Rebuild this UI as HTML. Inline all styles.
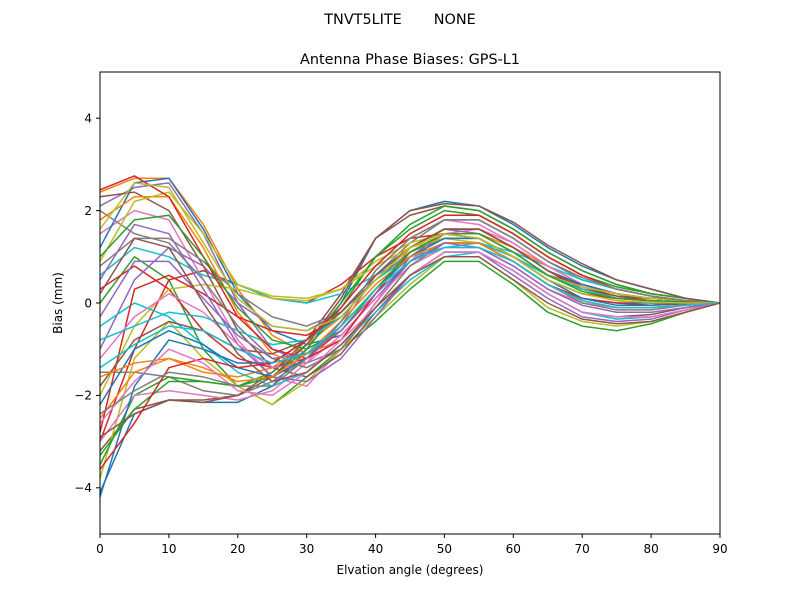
<!DOCTYPE html>
<html><head><meta charset="utf-8"><style>
html,body{margin:0;padding:0;background:#fff;}
svg{display:block;font-family:"DejaVu Sans","Liberation Sans",sans-serif;}
</style></head><body>
<svg width="800" height="600" viewBox="0 0 800 600" xmlns="http://www.w3.org/2000/svg">
<rect width="800" height="600" fill="#fff"/>
<text x="400" y="24" font-size="14.4" text-anchor="middle" xml:space="preserve" style="white-space:pre">TNVT5LITE       NONE</text>
<text x="410" y="64" font-size="14.4" text-anchor="middle">Antenna Phase Biases: GPS-L1</text>
<defs><clipPath id="c"><rect x="100" y="72" width="620" height="462"/></clipPath></defs>
<g clip-path="url(#c)">
<g transform="translate(100,303) scale(6.8889,-46.2)" fill="none" stroke-width="1.5" stroke-linejoin="round">
<polyline vector-effect="non-scaling-stroke" stroke="#1f77b4" points="0,-4.1 5,-2.4 10,-2.1 15,-2.15 20,-2.15 25,-1.8 30,-1.0 35,0 40,1.4 45,2.0 50,2.2 55,2.1 60,1.7 65,1.2 70,0.8 75,0.5 80,0.3 85,0.1 90,0"/>
<polyline vector-effect="non-scaling-stroke" stroke="#ff7f0e" points="0,2.4 5,2.7 10,2.7 15,1.7 20,0.3 25,-0.7 30,-1.1 35,-0.8 40,0.2 45,1.2 50,1.6 55,1.5 60,1.1 65,0.6 70,0.3 75,0.15 80,0.1 85,0.05 90,0"/>
<polyline vector-effect="non-scaling-stroke" stroke="#2ca02c" points="0,0 5,1.0 10,0.5 15,-1 20,-1.8 25,-2.2 30,-1.6 35,-1 40,-0.4 45,0.3 50,0.9 55,0.9 60,0.4 65,-0.2 70,-0.5 75,-0.6 80,-0.45 85,-0.2 90,0"/>
<polyline vector-effect="non-scaling-stroke" stroke="#d62728" points="0,-3 5,-1 10,0.5 15,0.7 20,0.4 25,0.1 30,0 35,0.4 40,1.0 45,1.4 50,1.5 55,1.4 60,1.0 65,0.6 70,0.4 75,0.2 80,0.1 85,0.05 90,0"/>
<polyline vector-effect="non-scaling-stroke" stroke="#9467bd" points="0,2.1 5,2.5 10,2.6 15,1.5 20,0 25,-1.0 30,-1.3 35,-1.0 40,0 45,1.0 50,1.5 55,1.4 60,1.0 65,0.5 70,0.2 75,0.1 80,0.05 85,0.02 90,0"/>
<polyline vector-effect="non-scaling-stroke" stroke="#8c564b" points="0,-3.2 5,-2.3 10,-2.1 15,-2.1 20,-2.0 25,-1.5 30,-0.8 35,0.2 40,1.4 45,1.9 50,2.1 55,2.0 60,1.6 65,1.1 70,0.7 75,0.4 80,0.2 85,0.1 90,0"/>
<polyline vector-effect="non-scaling-stroke" stroke="#e377c2" points="0,1.5 5,2.0 10,1.8 15,0.5 20,-0.8 25,-1.6 30,-1.8 35,-1.0 40,0 45,0.9 50,1.5 55,1.6 60,1.3 65,0.8 70,0.4 75,0.2 80,0.1 85,0.05 90,0"/>
<polyline vector-effect="non-scaling-stroke" stroke="#7f7f7f" points="0,-1.5 5,-1.5 10,-1.6 15,-1.9 20,-2.0 25,-1.7 30,-1.2 35,-0.5 40,0.6 45,1.3 50,1.8 55,1.8 60,1.4 65,0.9 70,0.5 75,0.3 80,0.15 85,0.05 90,0"/>
<polyline vector-effect="non-scaling-stroke" stroke="#bcbd22" points="0,-3.8 5,-1.2 10,-0.4 15,-1.2 20,-1.8 25,-2.2 30,-1.7 35,-1.0 40,-0.3 45,0.4 50,1.0 55,1.0 60,0.5 65,-0.1 70,-0.4 75,-0.5 80,-0.4 85,-0.2 90,0"/>
<polyline vector-effect="non-scaling-stroke" stroke="#17becf" points="0,0.6 5,1.2 10,1.0 15,0.6 20,0.4 25,0.1 30,0.0 35,0.2 40,0.6 45,1.0 50,1.2 55,1.3 60,1.1 65,0.8 70,0.5 75,0.3 80,0.15 85,0.05 90,0"/>
<polyline vector-effect="non-scaling-stroke" stroke="#1f77b4" points="0,1.2 5,2.6 10,2.7 15,1.6 20,0.2 25,-0.6 30,-0.9 35,-0.7 40,0.1 45,0.9 50,1.3 55,1.3 60,0.9 65,0.4 70,0.1 75,0 80,0 85,0 90,0"/>
<polyline vector-effect="non-scaling-stroke" stroke="#ff7f0e" points="0,-2.5 5,-1.5 10,-1.2 15,-1.5 20,-1.6 25,-1.4 30,-0.9 35,-0.3 40,0.5 45,1.1 50,1.5 55,1.5 60,1.2 65,0.8 70,0.4 75,0.2 80,0.1 85,0.05 90,0"/>
<polyline vector-effect="non-scaling-stroke" stroke="#2ca02c" points="0,-3.5 5,-2.0 10,-1.6 15,-1.7 20,-1.8 25,-1.5 30,-0.9 35,0 40,1.0 45,1.7 50,2.1 55,2.0 60,1.6 65,1.1 70,0.7 75,0.4 80,0.2 85,0.1 90,0"/>
<polyline vector-effect="non-scaling-stroke" stroke="#d62728" points="0,0.3 5,0.8 10,0.3 15,-0.6 20,-1.2 25,-1.4 30,-1.2 35,-0.6 40,0.2 45,0.9 50,1.3 55,1.3 60,0.9 65,0.4 70,0.1 75,0 80,-0.05 85,-0.02 90,0"/>
<polyline vector-effect="non-scaling-stroke" stroke="#9467bd" points="0,-1.0 5,0.5 10,1.2 15,0.8 20,0 25,-0.5 30,-0.6 35,-0.2 40,0.6 45,1.2 50,1.6 55,1.5 60,1.1 65,0.6 70,0.3 75,0.1 80,0.05 85,0.02 90,0"/>
<polyline vector-effect="non-scaling-stroke" stroke="#8c564b" points="0,2.3 5,2.4 10,2.0 15,0.8 20,-0.6 25,-1.4 30,-1.6 35,-1.1 40,-0.2 45,0.6 50,1.1 55,1.1 60,0.7 65,0.2 70,-0.2 75,-0.3 80,-0.25 85,-0.1 90,0"/>
<polyline vector-effect="non-scaling-stroke" stroke="#e377c2" points="0,-3.0 5,-2.0 10,-1.9 15,-2.0 20,-2.1 25,-1.9 30,-1.3 35,-0.4 40,0.7 45,1.4 50,1.8 55,1.7 60,1.3 65,0.8 70,0.4 75,0.2 80,0.1 85,0.05 90,0"/>
<polyline vector-effect="non-scaling-stroke" stroke="#7f7f7f" points="0,0.8 5,1.4 10,1.4 15,0.9 20,0.2 25,-0.3 30,-0.5 35,-0.2 40,0.5 45,1.1 50,1.4 55,1.4 60,1.0 65,0.5 70,0.2 75,0.05 80,0 85,0 90,0"/>
<polyline vector-effect="non-scaling-stroke" stroke="#bcbd22" points="0,-2.0 5,-0.5 10,0.3 15,0.4 20,0.3 25,0.1 30,0.05 35,0.3 40,0.9 45,1.3 50,1.5 55,1.4 60,1.0 65,0.6 70,0.3 75,0.15 80,0.1 85,0.05 90,0"/>
<polyline vector-effect="non-scaling-stroke" stroke="#17becf" points="0,-0.5 5,0 10,-0.3 15,-0.9 20,-1.5 25,-1.8 30,-1.5 35,-0.9 40,-0.2 45,0.5 50,1.0 55,1.1 60,0.7 65,0.2 70,-0.2 75,-0.35 80,-0.3 85,-0.15 90,0"/>
<polyline vector-effect="non-scaling-stroke" stroke="#1f77b4" points="0,-4.2 5,-1.8 10,-0.8 15,-1.0 20,-1.3 25,-1.3 30,-0.8 35,-0.2 40,0.6 45,1.2 50,1.6 55,1.6 60,1.2 65,0.7 70,0.4 75,0.2 80,0.1 85,0.05 90,0"/>
<polyline vector-effect="non-scaling-stroke" stroke="#ff7f0e" points="0,1.8 5,2.3 10,2.3 15,1.2 20,-0.2 25,-1.1 30,-1.4 35,-1.0 40,-0.1 45,0.8 50,1.3 55,1.3 60,0.9 65,0.4 70,0.05 75,-0.1 80,-0.1 85,-0.05 90,0"/>
<polyline vector-effect="non-scaling-stroke" stroke="#2ca02c" points="0,-3.3 5,-2.3 10,-1.7 15,-1.7 20,-1.8 25,-1.6 30,-1.0 35,-0.1 40,1.0 45,1.6 50,2.0 55,1.9 60,1.5 65,1.0 70,0.6 75,0.35 80,0.2 85,0.1 90,0"/>
<polyline vector-effect="non-scaling-stroke" stroke="#d62728" points="0,-2.8 5,0.3 10,0.6 15,0.2 20,-0.3 25,-0.6 30,-0.7 35,-0.3 40,0.5 45,1.2 50,1.6 55,1.6 60,1.2 65,0.7 70,0.3 75,0.15 80,0.05 85,0.02 90,0"/>
<polyline vector-effect="non-scaling-stroke" stroke="#9467bd" points="0,0.5 5,1.7 10,1.5 15,0.3 20,-0.9 25,-1.6 30,-1.7 35,-1.2 40,-0.3 45,0.6 50,1.1 55,1.1 60,0.6 65,0.1 70,-0.3 75,-0.4 80,-0.35 85,-0.15 90,0"/>
<polyline vector-effect="non-scaling-stroke" stroke="#8c564b" points="0,-1.8 5,-0.8 10,-0.4 15,-0.6 20,-1.0 25,-1.1 30,-0.8 35,-0.2 40,0.6 45,1.2 50,1.6 55,1.6 60,1.2 65,0.7 70,0.35 75,0.15 80,0.1 85,0.05 90,0"/>
<polyline vector-effect="non-scaling-stroke" stroke="#e377c2" points="0,-1.2 5,-0.3 10,0.2 15,-0.2 20,-0.9 25,-1.4 30,-1.3 35,-0.7 40,0.1 45,0.8 50,1.2 55,1.2 60,0.8 65,0.3 70,0 75,-0.1 80,-0.1 85,-0.05 90,0"/>
<polyline vector-effect="non-scaling-stroke" stroke="#7f7f7f" points="0,2.0 5,1.5 10,1.3 15,0.5 20,-0.5 25,-1.2 30,-1.4 35,-1.0 40,-0.1 45,0.8 50,1.3 55,1.3 60,0.9 65,0.4 70,0 75,-0.15 80,-0.15 85,-0.05 90,0"/>
<polyline vector-effect="non-scaling-stroke" stroke="#bcbd22" points="0,0.9 5,2.2 10,2.4 15,1.5 20,0.4 25,0.15 30,0.1 35,0.3 40,0.8 45,1.2 50,1.4 55,1.3 60,1.0 65,0.6 70,0.35 75,0.2 80,0.1 85,0.05 90,0"/>
<polyline vector-effect="non-scaling-stroke" stroke="#17becf" points="0,-0.8 5,-0.5 10,-0.2 15,-0.3 20,-0.6 25,-0.9 30,-0.8 35,-0.3 40,0.5 45,1.0 50,1.3 55,1.3 60,1.0 65,0.6 70,0.3 75,0.1 80,0.05 85,0.02 90,0"/>
<polyline vector-effect="non-scaling-stroke" stroke="#d62728" points="0,2.45 5,2.75 10,2.3 15,1.0 20,-0.3 25,-1.0 30,-1.2 35,-0.8 40,0.2 45,1.1 50,1.5 55,1.4 60,1.0 65,0.5 70,0.2 75,0.1 80,0.05 85,0.02 90,0"/>
<polyline vector-effect="non-scaling-stroke" stroke="#8c564b" points="0,-2.9 5,-2.4 10,-2.1 15,-2.15 20,-2.0 25,-1.6 30,-0.9 35,0.1 40,1.4 45,2.0 50,2.15 55,2.1 60,1.75 65,1.25 70,0.85 75,0.5 80,0.3 85,0.1 90,0"/>
<polyline vector-effect="non-scaling-stroke" stroke="#1f77b4" points="0,-2.2 5,-1.0 10,-0.6 15,-0.9 20,-1.4 25,-1.6 30,-1.2 35,-0.5 40,0.3 45,1.0 50,1.4 55,1.4 60,1.0 65,0.5 70,0.1 75,-0.05 80,-0.05 85,0 90,0"/>
<polyline vector-effect="non-scaling-stroke" stroke="#ff7f0e" points="0,-1.6 5,-1.3 10,-1.2 15,-1.4 20,-1.7 25,-1.6 30,-1.1 35,-0.4 40,0.4 45,1.0 50,1.3 55,1.3 60,0.9 65,0.4 70,0.05 75,-0.1 80,-0.1 85,-0.05 90,0"/>
<polyline vector-effect="non-scaling-stroke" stroke="#2ca02c" points="0,1.0 5,1.8 10,1.9 15,1.0 20,-0.1 25,-0.8 30,-1.0 35,-0.6 40,0.3 45,1.1 50,1.5 55,1.5 60,1.1 65,0.6 70,0.25 75,0.1 80,0.05 85,0.02 90,0"/>
<polyline vector-effect="non-scaling-stroke" stroke="#d62728" points="0,-3.6 5,-2.6 10,-1.4 15,-1.2 20,-1.4 25,-1.3 30,-0.8 35,-0.1 40,0.8 45,1.5 50,1.9 55,1.9 60,1.5 65,1.0 70,0.6 75,0.3 80,0.15 85,0.05 90,0"/>
<polyline vector-effect="non-scaling-stroke" stroke="#9467bd" points="0,-0.3 5,0.9 10,0.9 15,0.1 20,-0.7 25,-1.2 30,-1.1 35,-0.6 40,0.2 45,0.9 50,1.3 55,1.2 60,0.8 65,0.3 70,-0.05 75,-0.2 80,-0.2 85,-0.1 90,0"/>
<polyline vector-effect="non-scaling-stroke" stroke="#e377c2" points="0,-2.6 5,-1.7 10,-1.0 15,-1.3 20,-1.9 25,-2.0 30,-1.5 35,-0.8 40,-0.1 45,0.6 50,1.1 55,1.1 60,0.7 65,0.2 70,-0.2 75,-0.3 80,-0.3 85,-0.15 90,0"/>
<polyline vector-effect="non-scaling-stroke" stroke="#7f7f7f" points="0,-2.4 5,-1.9 10,-1.5 15,-1.6 20,-1.8 25,-1.8 30,-1.2 35,-0.4 40,0.7 45,1.4 50,1.8 55,1.8 60,1.4 65,0.9 70,0.55 75,0.3 80,0.15 85,0.05 90,0"/>
<polyline vector-effect="non-scaling-stroke" stroke="#bcbd22" points="0,1.6 5,2.6 10,2.5 15,1.3 20,0.1 25,-0.5 30,-0.6 35,-0.3 40,0.5 45,1.2 50,1.5 55,1.4 60,1.0 65,0.5 70,0.2 75,0.05 80,0.02 85,0 90,0"/>
<polyline vector-effect="non-scaling-stroke" stroke="#17becf" points="0,-1.4 5,-0.9 10,-0.5 15,-0.6 20,-1.0 25,-1.3 30,-1.1 35,-0.5 40,0.3 45,0.9 50,1.2 55,1.2 60,0.9 65,0.4 70,0.05 75,-0.1 80,-0.1 85,-0.05 90,0"/>
<polyline vector-effect="non-scaling-stroke" stroke="#8c564b" points="0,0.2 5,1.4 10,1.2 15,0 20,-1.1 25,-1.7 30,-1.5 35,-0.9 40,-0.1 45,0.6 50,1.0 55,1.0 60,0.5 65,0 70,-0.35 75,-0.45 80,-0.4 85,-0.2 90,0"/>
</g>
</g>
<rect x="100" y="72" width="620" height="462" fill="none" stroke="#000" stroke-width="1"/>
<g stroke="#000" stroke-width="1">
<line x1="100" y1="534" x2="100" y2="538"/><line x1="168.9" y1="534" x2="168.9" y2="538"/><line x1="237.8" y1="534" x2="237.8" y2="538"/><line x1="306.7" y1="534" x2="306.7" y2="538"/><line x1="375.6" y1="534" x2="375.6" y2="538"/><line x1="444.4" y1="534" x2="444.4" y2="538"/><line x1="513.3" y1="534" x2="513.3" y2="538"/><line x1="582.2" y1="534" x2="582.2" y2="538"/><line x1="651.1" y1="534" x2="651.1" y2="538"/><line x1="720" y1="534" x2="720" y2="538"/>
<line x1="96" y1="118.2" x2="100" y2="118.2"/><line x1="96" y1="210.6" x2="100" y2="210.6"/><line x1="96" y1="303" x2="100" y2="303"/><line x1="96" y1="395.4" x2="100" y2="395.4"/><line x1="96" y1="487.8" x2="100" y2="487.8"/>
</g>
<g font-size="12" text-anchor="middle">
<text x="100" y="553">0</text><text x="168.9" y="553">10</text><text x="237.8" y="553">20</text><text x="306.7" y="553">30</text><text x="375.6" y="553">40</text><text x="444.4" y="553">50</text><text x="513.3" y="553">60</text><text x="582.2" y="553">70</text><text x="651.1" y="553">80</text><text x="720" y="553">90</text>
</g>
<g font-size="12" text-anchor="end">
<text x="92" y="122.5">4</text><text x="92" y="214.9">2</text><text x="92" y="307.3">0</text><text x="92" y="399.7">−2</text><text x="92" y="492.1">−4</text>
</g>
<text x="410" y="574" font-size="12" text-anchor="middle">Elvation angle (degrees)</text>
<text transform="translate(62,303) rotate(-90)" font-size="12" text-anchor="middle">Bias (mm)</text>
</svg>
</body></html>
